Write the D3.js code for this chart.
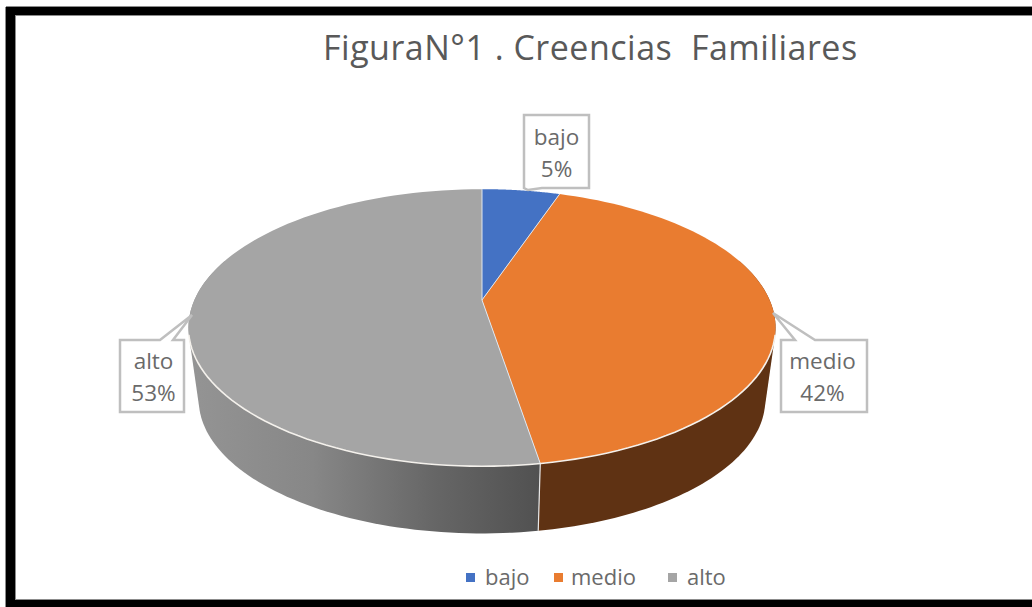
<!DOCTYPE html>
<html><head><meta charset="utf-8">
<script src="https://cdn.jsdelivr.net/npm/d3@7/dist/d3.min.js"></script>
<style>html,body{margin:0;padding:0;background:#fff}svg{display:block}text{font-family:"Open Sans",sans-serif}</style>
</head><body><svg id="c" width="1032" height="607"></svg>
<script>
const categories = ["bajo","medio","alto"];
const values = [5.2,42.2,52.6];
const labels = ["5%","42%","53%"];
const colors = ["#4472c4","#e97c30","#a5a5a5"];
const titleText = "FiguraN°1 . Creencias  Familiares";

const W=1032,H=607;
const svg=d3.select("#c");
svg.append("rect").attr("width",W).attr("height",H).attr("fill","#fff");
// frame: open on the right
svg.append("rect").attr("x",6).attr("y",7).attr("width",W-6).attr("height",H-7).attr("fill","#000");
svg.append("rect").attr("x",15).attr("y",15).attr("width",W-15).attr("height",585).attr("fill","#fff");
svg.append("path").attr("d","M5.5 7V607M6 6.5H1032M15.5 15.5V600M15 15.5H1032M15 599.5H1032").attr("stroke","#8c8c8c").attr("stroke-width",1).attr("fill","none");

svg.append("text").attr("x",323).attr("y",60).attr("font-size",34).attr("letter-spacing",0.5).attr("fill","#595959").style("white-space","pre").text(titleText);

// perspective projection of a unit circle
const cx=482,cy=300,a=287.6,b=133,k=0.2;
const px=(t,s=1,d=0)=>{const u=Math.sin(t),v=-Math.cos(t),w=1-k*v;return [cx+s*a*u/w,cy+d+s*b*v/w];};
const pie=d3.pie().sort(null).value(d=>d)(values);
const line=d3.line();
const samples=(t0,t1)=>d3.range(0,81).map(i=>t0+(t1-t0)*i/80);

const defs=svg.append("defs");
const g=defs.append("linearGradient").attr("id","gw").attr("gradientUnits","userSpaceOnUse").attr("x1",190).attr("x2",540).attr("y1",0).attr("y2",0);
[[0,"#949494"],[0.35,"#878787"],[0.7,"#666666"],[1,"#515151"]].forEach(s=>g.append("stop").attr("offset",s[0]).attr("stop-color",s[1]));

const S=0.965,D=73;
const wallRanges=[[pie[1].startAngle,pie[1].endAngle,"#5f3213"],[pie[2].startAngle,pie[2].endAngle,"url(#gw)"]];
wallRanges.forEach(r=>{
  const t0=Math.max(r[0],Math.PI*0.4),t1=Math.min(r[1],Math.PI*1.6);
  const ts=samples(t0,t1);
  const hull=d3.polygonHull(ts.map(t=>px(t)).concat(ts.map(t=>px(t,S,D))));
  svg.append("path").attr("d",line(hull)+"Z").attr("fill",r[2]);
});
// seam between front walls
const te=pie[1].endAngle;
svg.append("path").attr("d",line([px(te),px(te,S,D)])).attr("stroke","#e8e8e8").attr("stroke-width",1.2).attr("fill","none");
// top faces
pie.forEach((p,i)=>{
  const pts=[[cx,cy]].concat(samples(p.startAngle,p.endAngle).map(t=>px(t)));
  svg.append("path").attr("d",line(pts)+"Z").attr("fill",colors[i]);
});
// radial separators
pie.forEach(p=>{
  svg.append("path").attr("d",line([[cx,cy],px(p.startAngle)])).attr("stroke","#dfe6ee").attr("stroke-width",1).attr("fill","none");
});
// bright front rim
svg.append("path").attr("d",line(samples(Math.PI*0.58,Math.PI*1.42).map(t=>px(t)))).attr("stroke","#f4f1ec").attr("stroke-width",1.6).attr("fill","none");

// callouts
const callouts=[
 {i:0,x:524,y:115,w:65,h:73,tip:null,ty:[145,177],tx:556.5},
 {i:1,x:781,y:340,w:86,h:72,tip:[773,313],base:[[795,340],[815,340]],ty:[369,401],tx:822.5},
 {i:2,x:120,y:340,w:64,h:72,tip:[192,315],base:[[173,340],[160,340]],ty:[369,401],tx:153.5}
];
callouts.forEach(c=>{
  const r=c.x+c.w,bt=c.y+c.h;
  let path;
  if(c.i===0) path=[[c.x,c.y],[r,c.y],[r,bt],[c.x+18,bt],[c.x+4,bt+2],[c.x,bt]];
  else if(c.i===1) path=[[c.x,c.y],c.base[0],c.tip,c.base[1],[r,c.y],[r,bt],[c.x,bt]];
  else path=[[c.x,c.y],c.base[1],c.tip,c.base[0],[r,c.y],[r,bt],[c.x,bt]];
  svg.append("path").attr("d",line(path)+"Z").attr("fill","#fff").attr("stroke","#bfbfbf").attr("stroke-width",2.5);
  svg.append("text").attr("x",c.tx).attr("y",c.ty[0]).attr("text-anchor","middle").attr("font-size",22.5).attr("fill","#6a6a6a").text(categories[c.i]);
  svg.append("text").attr("x",c.tx).attr("y",c.ty[1]).attr("text-anchor","middle").attr("font-size",22.5).attr("fill","#6a6a6a").text(labels[c.i]);
});

// legend
const legendX=[[466,485],[554,571],[668,687]];
categories.forEach((n,i)=>{
  svg.append("rect").attr("x",legendX[i][0]).attr("y",573).attr("width",9).attr("height",9).attr("fill",colors[i]);
  svg.append("text").attr("x",legendX[i][1]).attr("y",585).attr("font-size",22).attr("fill","#6a6a6a").text(n);
});
</script></body></html>
